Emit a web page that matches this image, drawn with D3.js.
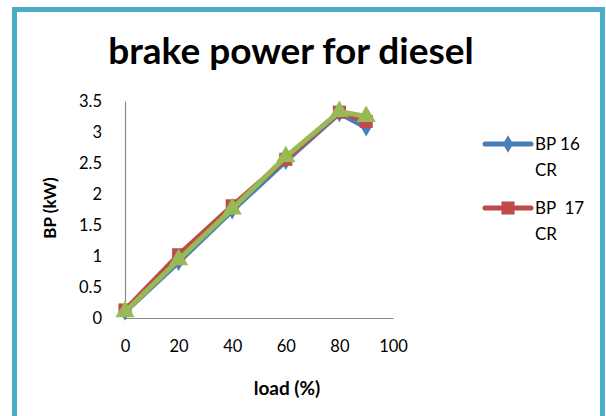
<!DOCTYPE html>
<html><head><meta charset="utf-8">
<script src="https://cdn.jsdelivr.net/npm/d3@7"></script>
<style>body{margin:0;background:#fff;}svg{display:block;font-family:Lato,"Open Sans",sans-serif;}</style>
</head><body>
<svg id="c" width="606" height="416"></svg>
<script>
const loads = [0, 20, 40, 60, 80, 90];
const bp16 = [0.10, 0.90, 1.73, 2.53, 3.30, 3.07];
const bp17 = [0.13, 1.02, 1.81, 2.56, 3.32, 3.17];
const bp18 = [0.10, 0.94, 1.76, 2.60, 3.33, 3.25];
const xTicks = [0, 20, 40, 60, 80, 100];
const yTicks = [0, 0.5, 1, 1.5, 2, 2.5, 3, 3.5];
const seriesNames = ["BP 16 CR", "BP  17 CR", "BP 18 CR"];
const legendLines = [["BP 16", "CR"], ["BP  17", "CR"]];

const svg = d3.select("#c");
svg.append("rect").attr("x", 14.5).attr("y", 9.5).attr("width", 588).attr("height", 420)
  .attr("fill", "#fff").attr("stroke", "#4BACC6").attr("stroke-width", 5);

const x = d3.scaleLinear().domain([0, 100]).range([125, 393]);
const y = d3.scaleLinear().domain([0, 3.5]).range([318, 101]);

svg.append("text").attr("x", 291).attr("y", 64).attr("text-anchor", "middle")
  .attr("font-weight", "bold").attr("font-size", 37).attr("fill", "#000").text("brake power for diesel");

const xAxis = d3.axisBottom(x).tickValues(xTicks).tickSize(0).tickPadding(22).tickFormat(d3.format("d"));
const gx = svg.append("g").attr("transform", "translate(0,318)").call(xAxis);
const yAxis = d3.axisLeft(y).tickValues(yTicks).tickSize(0).tickPadding(23).tickFormat(d => String(d));
const gy = svg.append("g").attr("transform", "translate(125,0)").call(yAxis);
[gx, gy].forEach(g => {
  g.select(".domain").attr("stroke", "#898989").attr("stroke-width", 1.2);
  g.selectAll("text").attr("font-family", "Lato, sans-serif").attr("font-size", 16.5).attr("fill", "#000");
});

svg.append("text").attr("x", 287).attr("y", 395).attr("text-anchor", "middle")
  .attr("font-weight", "bold").attr("font-size", 19).text("load (%)");
svg.append("text").attr("transform", "translate(56,208) rotate(-90)").attr("text-anchor", "middle")
  .attr("font-weight", "bold").attr("font-size", 17).text("BP (kW)");

const series = [
  {name: seriesNames[0], vals: bp16, color: "#4A7EBB", shape: d3.symbolDiamond, size: 90},
  {name: seriesNames[1], vals: bp17, color: "#BE4B48", shape: d3.symbolSquare, size: 170},
  {name: seriesNames[2], vals: bp18, color: "#98B954", shape: d3.symbolTriangle, size: 160}
];
const line = d3.line().x(d => x(d[0])).y(d => y(d[1]));
series.forEach(s => {
  const pts = loads.map((l, i) => [l, s.vals[i]]);
  svg.append("path").datum(pts).attr("d", line).attr("fill", "none")
    .attr("stroke", s.color).attr("stroke-width", 5).attr("stroke-linejoin", "round");
  svg.append("g").selectAll("path").data(pts).join("path")
    .attr("transform", d => `translate(${x(d[0])},${y(d[1])})`)
    .attr("d", d3.symbol().type(s.shape).size(s.size)).attr("fill", s.color);
});

legendLines.forEach((lines, i) => {
  const s = series[i];
  const ly = 144 + i * 64;
  svg.append("line").attr("x1", 485).attr("x2", 531).attr("y1", ly).attr("y2", ly)
    .attr("stroke", s.color).attr("stroke-width", 5).attr("stroke-linecap", "round");
  svg.append("path").attr("transform", `translate(508,${ly})`)
    .attr("d", d3.symbol().type(s.shape).size(s.size)).attr("fill", s.color);
  const t = svg.append("text").attr("x", 535).attr("y", ly + 6).attr("font-size", 17).attr("fill", "#000")
    .attr("xml:space", "preserve").style("white-space", "pre");
  lines.forEach((ln, j) => t.append("tspan").attr("x", 535).attr("dy", j ? 26 : 0).text(ln));
});
</script>
</body></html>
